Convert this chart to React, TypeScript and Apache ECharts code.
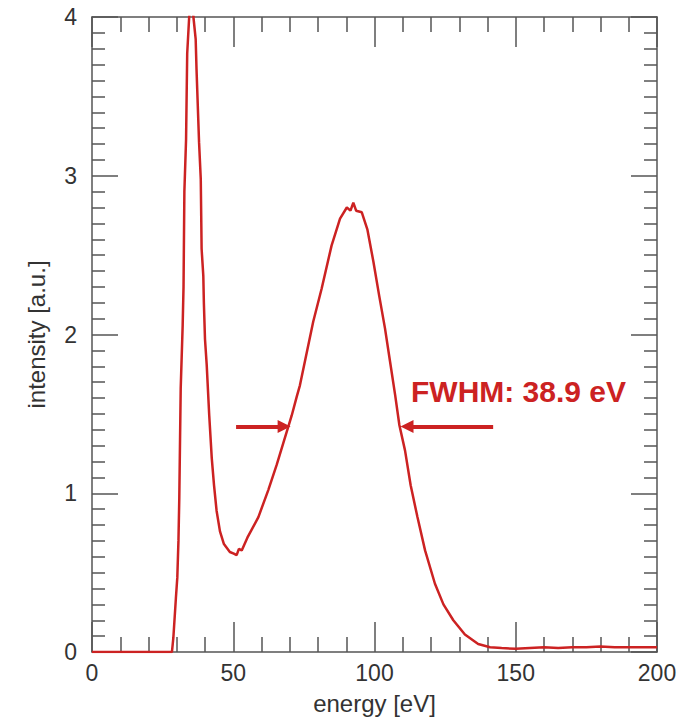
import React, { useEffect, useRef } from "react";
import * as echarts from "echarts";

const energy = [
  0, 10, 20, 27, 28.3, 28.8, 29.7, 30.2, 30.6, 30.9, 31.4, 32.1, 32.4, 32.7, 33.3, 33.7, 34.4, 35.2,
  35.9, 36.7, 37.0, 37.9, 38.5, 38.8, 39.4, 39.6, 40.0, 40.6, 41.5, 42.4, 43.2, 44.1, 45.3, 46.7,
  48.8, 50.2, 51.2, 52.0, 53.0, 55.0, 58.9, 62.4, 65.4, 68.3, 70.7, 72.5, 73.6, 78.3, 81.3, 84.8,
  87.8, 90.2, 91.5, 92.5, 93.5, 95.5, 97.5, 99.6, 101.7, 103.7, 105.5, 107.3, 108.8, 110.8, 112.8,
  115.2, 117.9, 121.4, 124.4, 127.9, 132, 136.7, 140.9, 145, 150, 155, 160, 165, 170, 175, 180,
  185, 190, 195, 200,
];

const intensity = [
  0, 0, 0, 0, 0.0, 0.09, 0.34, 0.47, 0.7, 0.97, 1.66, 2.06, 2.3, 2.9, 3.23, 3.77, 4.0, 4.15,
  4.0, 3.86, 3.67, 3.21, 2.98, 2.54, 2.37, 2.2, 1.97, 1.81, 1.49, 1.22, 1.05, 0.89, 0.76, 0.68,
  0.63, 0.62, 0.61, 0.65, 0.64, 0.72, 0.85, 1.02, 1.18, 1.35, 1.49, 1.61, 1.68, 2.08, 2.29, 2.56,
  2.73, 2.8, 2.78, 2.83, 2.78, 2.77, 2.66, 2.46, 2.24, 2.04, 1.83, 1.62, 1.43, 1.27, 1.05,
  0.85, 0.64, 0.43, 0.3, 0.2, 0.11, 0.05, 0.03, 0.025, 0.02, 0.025, 0.03, 0.025, 0.03, 0.03, 0.035,
  0.03, 0.03, 0.03, 0.03,
];

const xTicks = { min: 0, max: 200, interval: 50 };
const yTicks = { min: 0, max: 4, interval: 1 };

const fwhmText = "FWHM: 38.9 eV";
const halfMax = 1.42;
const leftArrow = [51, 68];
const rightArrow = [142, 111.5];

const FONT = "'Liberation Sans', Arial, Helvetica, sans-serif";
const AXIS_COLOR = "#555";
const RED = "#cc2222";

export default function App() {
  const ref = useRef<HTMLDivElement>(null);

  useEffect(() => {
    document.body.style.margin = "0";
    if (!ref.current) return;
    const chart = echarts.init(ref.current, null, { renderer: "svg" });

    const lineStyle = { color: AXIS_COLOR, width: 1.5 };
    const xCommon = (pos: "bottom" | "top", showLabel: boolean) => ({
      type: "value",
      position: pos,
      ...xTicks,
      axisLine: { show: true, onZero: false, lineStyle },
      axisTick: { show: true, inside: true, length: 30, lineStyle },
      minorTick: { show: true, splitNumber: 5, length: 15, lineStyle },
      splitLine: { show: false },
      minorSplitLine: { show: false },
      axisLabel: {
        show: showLabel,
        fontSize: 23,
        color: "#333",
        margin: 9,
        fontFamily: FONT,
      },
    });
    const yCommon = (pos: "left" | "right", showLabel: boolean) => ({
      type: "value",
      position: pos,
      ...yTicks,
      axisLine: { show: true, onZero: false, lineStyle },
      axisTick: { show: true, inside: true, length: 26, lineStyle },
      minorTick: { show: true, splitNumber: 10, length: 13, lineStyle },
      splitLine: { show: false },
      minorSplitLine: { show: false },
      axisLabel: {
        show: showLabel,
        fontSize: 23,
        color: "#333",
        margin: 15,
        fontFamily: FONT,
      },
    });

    chart.setOption({
      animation: false,
      backgroundColor: "#fff",
      grid: { left: 92, right: 31, top: 17, bottom: 65, containLabel: false },
      xAxis: [
        {
          ...xCommon("bottom", true),
          name: "energy [eV]",
          nameLocation: "middle",
          nameGap: 39,
          nameTextStyle: { fontSize: 24, color: "#333", fontFamily: FONT },
        },
        xCommon("top", false),
      ],
      yAxis: [
        {
          ...yCommon("left", true),
          name: "intensity [a.u.]",
          nameLocation: "middle",
          nameGap: 44,
          nameTextStyle: { fontSize: 24, color: "#333", fontFamily: FONT },
        },
        yCommon("right", false),
      ],
      series: [
        {
          type: "line",
          xAxisIndex: 0,
          yAxisIndex: 0,
          data: energy.map((e, i) => [e, intensity[i]]),
          showSymbol: false,
          symbol: "none",
          clip: true,
          lineStyle: { color: RED, width: 2.5 },
          markLine: {
            silent: true,
            animation: false,
            symbol: ["none", "triangle"],
            symbolSize: [13, 13],
            label: { show: false },
            lineStyle: { color: RED, width: 4, type: "solid" },
            data: [
              [{ coord: [leftArrow[0], halfMax] }, { coord: [leftArrow[1], halfMax] }],
              [{ coord: [rightArrow[0], halfMax] }, { coord: [rightArrow[1], halfMax] }],
            ],
          },
        },
      ],
      graphic: [
        {
          type: "text",
          left: 411,
          top: 376,
          style: {
            text: fwhmText,
            fill: RED,
            font: `bold 30px ${FONT}`,
          },
        },
      ],
    });

    return () => chart.dispose();
  }, []);

  return <div ref={ref} style={{ width: 688, height: 720 }} />;
}
